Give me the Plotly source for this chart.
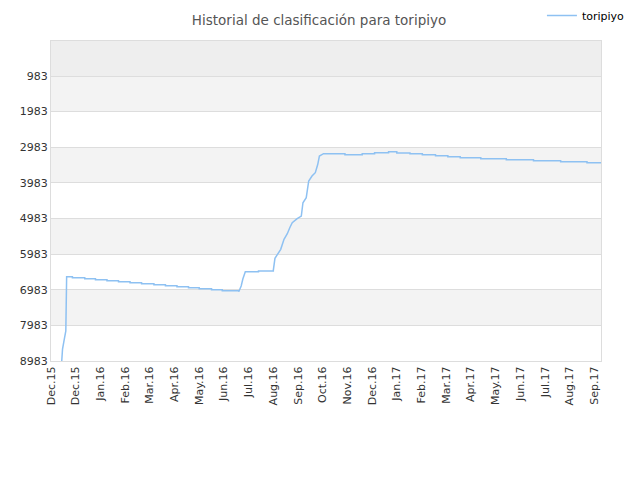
import plotly.graph_objects as go

# Clasificación de toripiyo a lo largo del tiempo (lectura aproximada del gráfico)
# los escalones se marcan repitiendo la fecha
dates = [
    "2015-12-14", "2015-12-15", "2015-12-17", "2015-12-19", "2015-12-20",
    "2015-12-27", "2015-12-27", "2016-01-11", "2016-01-11", "2016-01-24",
    "2016-01-24", "2016-02-07", "2016-02-07", "2016-02-21", "2016-02-21",
    "2016-03-06", "2016-03-06", "2016-03-20", "2016-03-20", "2016-04-04",
    "2016-04-04", "2016-04-18", "2016-04-18", "2016-05-02", "2016-05-02",
    "2016-05-16", "2016-05-16", "2016-05-29", "2016-05-29", "2016-06-13",
    "2016-06-13", "2016-06-26", "2016-06-26", "2016-07-16", "2016-07-16",
    "2016-07-19", "2016-07-21", "2016-07-24", "2016-08-09", "2016-08-09",
    "2016-08-27", "2016-08-27", "2016-08-29", "2016-09-01", "2016-09-05",
    "2016-09-09", "2016-09-13", "2016-09-16", "2016-09-19", "2016-09-25",
    "2016-09-30", "2016-10-02", "2016-10-06", "2016-10-09", "2016-10-13",
    "2016-10-17", "2016-10-20", "2016-10-22", "2016-10-24", "2016-10-27",
    "2016-11-22", "2016-11-22", "2016-12-13", "2016-12-13", "2016-12-28",
    "2016-12-28", "2017-01-14", "2017-01-14", "2017-01-24", "2017-01-24",
    "2017-02-09", "2017-02-09", "2017-02-24", "2017-02-24", "2017-03-12",
    "2017-03-12", "2017-03-27", "2017-03-27", "2017-04-11", "2017-04-11",
    "2017-05-06", "2017-05-06", "2017-06-06", "2017-06-06", "2017-07-09",
    "2017-07-09", "2017-08-11", "2017-08-11", "2017-09-12", "2017-09-12",
    "2017-09-29",
]
ranks = [
    9000, 8646, 8393, 8141, 6617,
    6617, 6645, 6645, 6673, 6673,
    6701, 6701, 6729, 6729, 6757,
    6757, 6785, 6785, 6813, 6813,
    6841, 6841, 6869, 6869, 6897,
    6897, 6926, 6926, 6954, 6954,
    6982, 6982, 7010, 7010, 7038,
    6878, 6681, 6476, 6476, 6456,
    6456, 6437, 6100, 5988, 5848,
    5567, 5410, 5241, 5101, 4989,
    4913, 4540, 4399, 3930, 3790,
    3697, 3462, 3229, 3201, 3164,
    3164, 3192, 3192, 3164, 3164,
    3136, 3136, 3108, 3108, 3144,
    3144, 3164, 3164, 3192, 3192,
    3220, 3220, 3248, 3248, 3276,
    3276, 3304, 3304, 3332, 3332,
    3360, 3360, 3389, 3389, 3417,
    3417,
]

# ticks cada 30 días, como en el original
tick_dates = [
    "2015-12-01", "2015-12-31", "2016-01-30", "2016-02-29", "2016-03-30",
    "2016-04-29", "2016-05-29", "2016-06-28", "2016-07-28", "2016-08-27",
    "2016-09-26", "2016-10-26", "2016-11-25", "2016-12-25", "2017-01-24",
    "2017-02-23", "2017-03-25", "2017-04-24", "2017-05-24", "2017-06-23",
    "2017-07-23", "2017-08-22", "2017-09-21",
]
tick_labels = [
    "Dec.15", "Dec.15", "Jan.16", "Feb.16", "Mar.16", "Apr.16", "May.16",
    "Jun.16", "Jul.16", "Aug.16", "Sep.16", "Oct.16", "Nov.16", "Dec.16",
    "Jan.17", "Feb.17", "Mar.17", "Apr.17", "May.17", "Jun.17", "Jul.17",
    "Aug.17", "Sep.17",
]
y_ticks = [983, 1983, 2983, 3983, 4983, 5983, 6983, 7983, 8983]

fig = go.Figure()
fig.add_trace(
    go.Scatter(
        x=dates,
        y=ranks,
        mode="lines",
        name="toripiyo",
        line=dict(color="#8ec1f2", width=1.5),
    )
)

# franjas alternas de fondo
bands = [(0, 983, "#eeeeee")]
for i in range(0, len(y_ticks) - 1, 2):
    bands.append((y_ticks[i], y_ticks[i + 1], "#f3f3f3"))
for y0, y1, col in bands:
    fig.add_shape(
        type="rect", xref="paper", yref="y", x0=0, x1=1, y0=y0, y1=y1,
        fillcolor=col, line=dict(width=0), layer="below",
    )

# la página tiene ~7px de margen del navegador, se compensa aquí
fig.update_layout(
    width=640,
    height=480,
    margin=dict(l=43, r=47, t=33, b=127, autoexpand=False),
    paper_bgcolor="white",
    plot_bgcolor="white",
    font=dict(family="DejaVu Sans", size=11, color="#333333"),
    title=dict(
        text="Historial de clasificación para toripiyo",
        x=0.486, xanchor="center", y=0.985, yanchor="top",
        font=dict(size=13.5, color="#555555"),
    ),
    legend=dict(
        x=0.8926, y=1.125, xanchor="left", yanchor="top",
        font=dict(size=11, color="#000000"),
        bgcolor="rgba(0,0,0,0)",
    ),
    showlegend=True,
)
fig.update_xaxes(
    range=["2015-12-01", "2017-09-29"],
    tickvals=tick_dates,
    ticktext=tick_labels,
    tickangle=-90,
    showgrid=False,
    showline=True,
    linecolor="#dddddd",
    mirror=True,
    ticks="",
    zeroline=False,
    automargin=False,
)
fig.update_yaxes(
    range=[8983, 0],
    tickvals=y_ticks,
    showgrid=True,
    gridcolor="#dddddd",
    showline=True,
    linecolor="#dddddd",
    mirror=True,
    ticks="",
    zeroline=False,
    automargin=False,
)

fig.write_html("out.html")
